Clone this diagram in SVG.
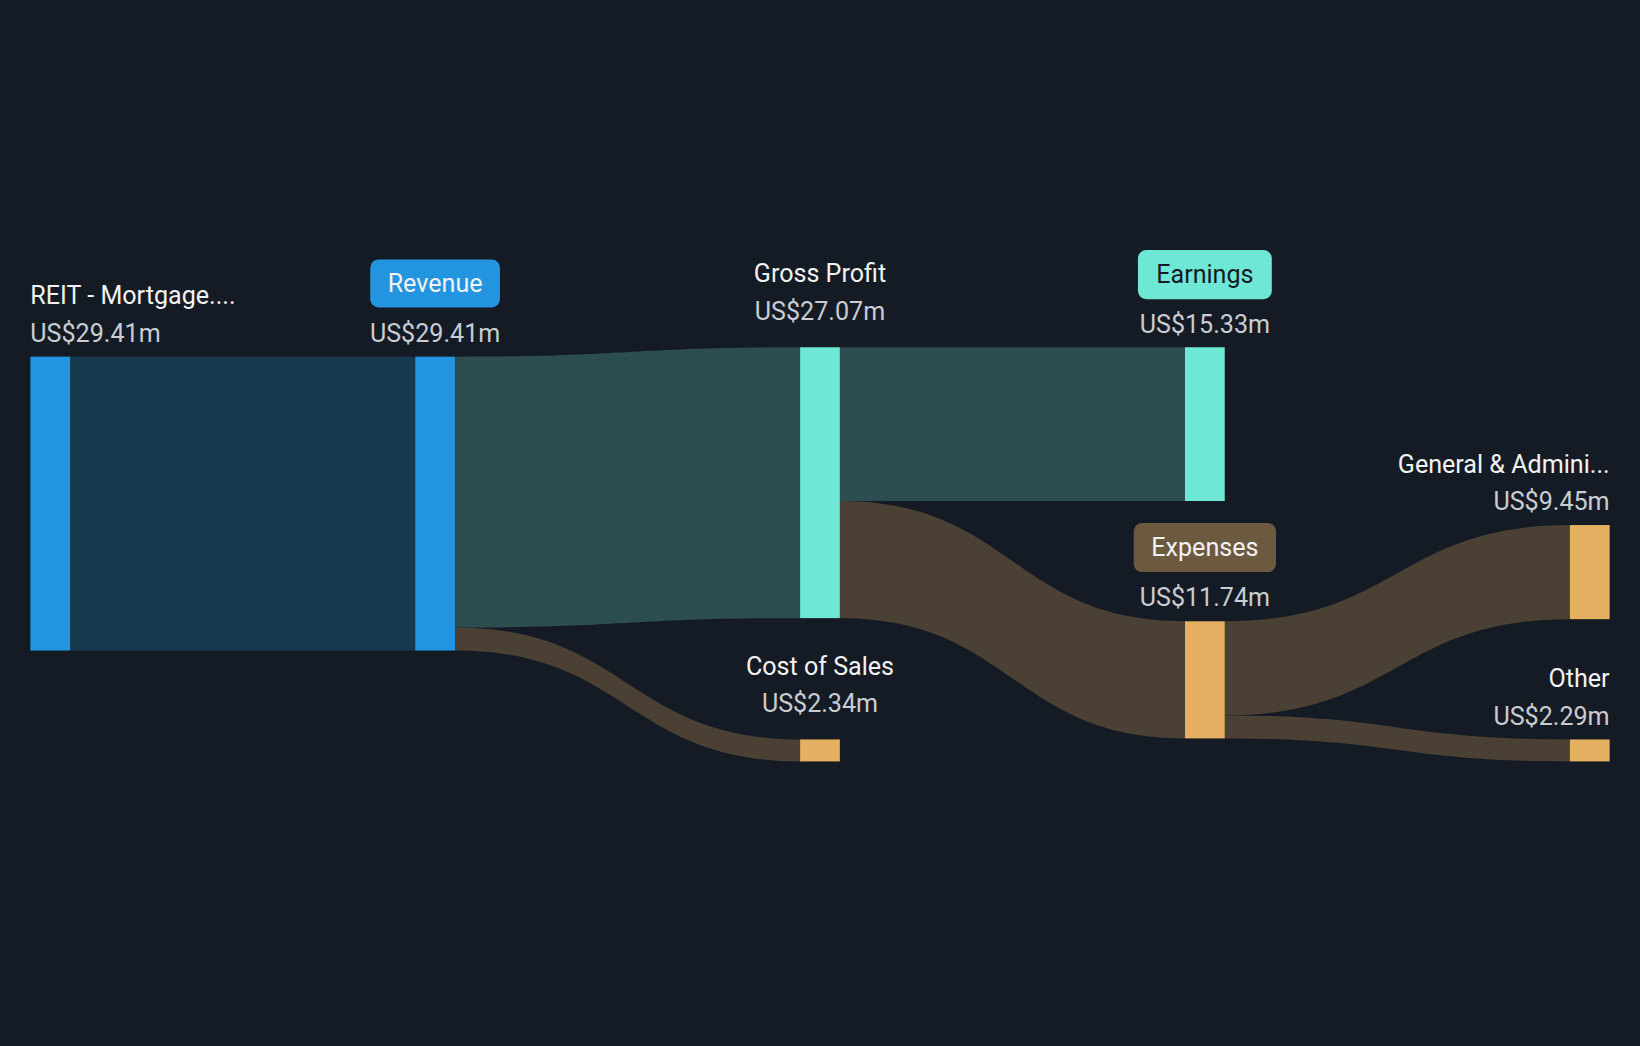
<svg xmlns="http://www.w3.org/2000/svg" width="1640" height="1046" viewBox="0 0 1640 1046">
<style>
.n{font-family:Roboto,"Liberation Sans",sans-serif;font-size:24px;fill:#F2F2F2}
.v{font-family:Roboto,"Liberation Sans",sans-serif;font-size:24px;fill:#C9CDD2}
.m{text-anchor:middle}.e{text-anchor:end}
.blue{fill:#2394DF}.teal{fill:#6EE7D4}.org{fill:#E6B062}
</style>
<rect width="1640" height="1046" fill="#151B24"/>
<g transform="scale(1.0459)">
<g id="connectors">
<rect x="67" y="341" width="330" height="281" fill="#18384F"/>
<path d="M435,341 C600,341 600,332 765,332 L765,591 C600,591 600,600 435,600 Z" fill="#2D4E50"/>
<path d="M435,600 C600,600 600,707 765,707 L765,728 C600,728 600,622 435,622 Z" fill="#4A4033"/>
<path d="M803,332 L1133,332 L1133,479 L803,479 Z" fill="#2D4E50"/>
<path d="M803,479 C968,479 968,594 1133,594 L1133,706 C968,706 968,591 803,591 Z" fill="#4A4033"/>
<path d="M1171,594 C1336,594 1336,502 1501,502 L1501,592 C1336,592 1336,684 1171,684 Z" fill="#4A4033"/>
<path d="M1171,684 C1336,684 1336,707 1501,707 L1501,728 C1336,728 1336,706 1171,706 Z" fill="#4A4033"/>
</g>
<g id="reit"><rect class="blue" x="29" y="341" width="38" height="281"/>
<text class="n" x="29" y="291">REIT - Mortgage....</text><text class="v" x="29" y="327">US$29.41m</text></g>
<g id="revenue"><rect class="blue" x="397" y="341" width="38" height="281"/>
<rect class="blue" x="354" y="248" width="124" height="46" rx="8"/>
<text class="n m" x="416" y="279">Revenue</text><text class="v m" x="416" y="327">US$29.41m</text></g>
<g id="grossprofit"><rect class="teal" x="765" y="332" width="38" height="259"/>
<text class="n m" x="784" y="270">Gross Profit</text><text class="v m" x="784" y="306">US$27.07m</text></g>
<g id="costofsales"><rect class="org" x="765" y="707" width="38" height="21"/>
<text class="n m" x="784" y="645">Cost of Sales</text><text class="v m" x="784" y="681">US$2.34m</text></g>
<g id="earnings"><rect class="teal" x="1133" y="332" width="38" height="147"/>
<rect class="teal" x="1088" y="239" width="128" height="47" rx="8"/>
<text class="m" x="1152" y="271" style="font-family:Roboto,'Liberation Sans',sans-serif;font-size:24px;fill:#151B24">Earnings</text>
<text class="v m" x="1152" y="318">US$15.33m</text></g>
<g id="expenses"><rect class="org" x="1133" y="594" width="38" height="112"/>
<rect x="1084" y="500" width="136" height="47" rx="8" fill="#6B5A40"/>
<text class="n m" x="1152" y="532">Expenses</text><text class="v m" x="1152" y="579">US$11.74m</text></g>
<g id="ga"><rect class="org" x="1501" y="502" width="38" height="90"/>
<text class="n e" x="1539" y="452">General &amp; Admini...</text><text class="v e" x="1539" y="488">US$9.45m</text></g>
<g id="other"><rect class="org" x="1501" y="707" width="38" height="21"/>
<text class="n e" x="1539" y="657">Other</text><text class="v e" x="1539" y="693">US$2.29m</text></g>
</g>
</svg>
